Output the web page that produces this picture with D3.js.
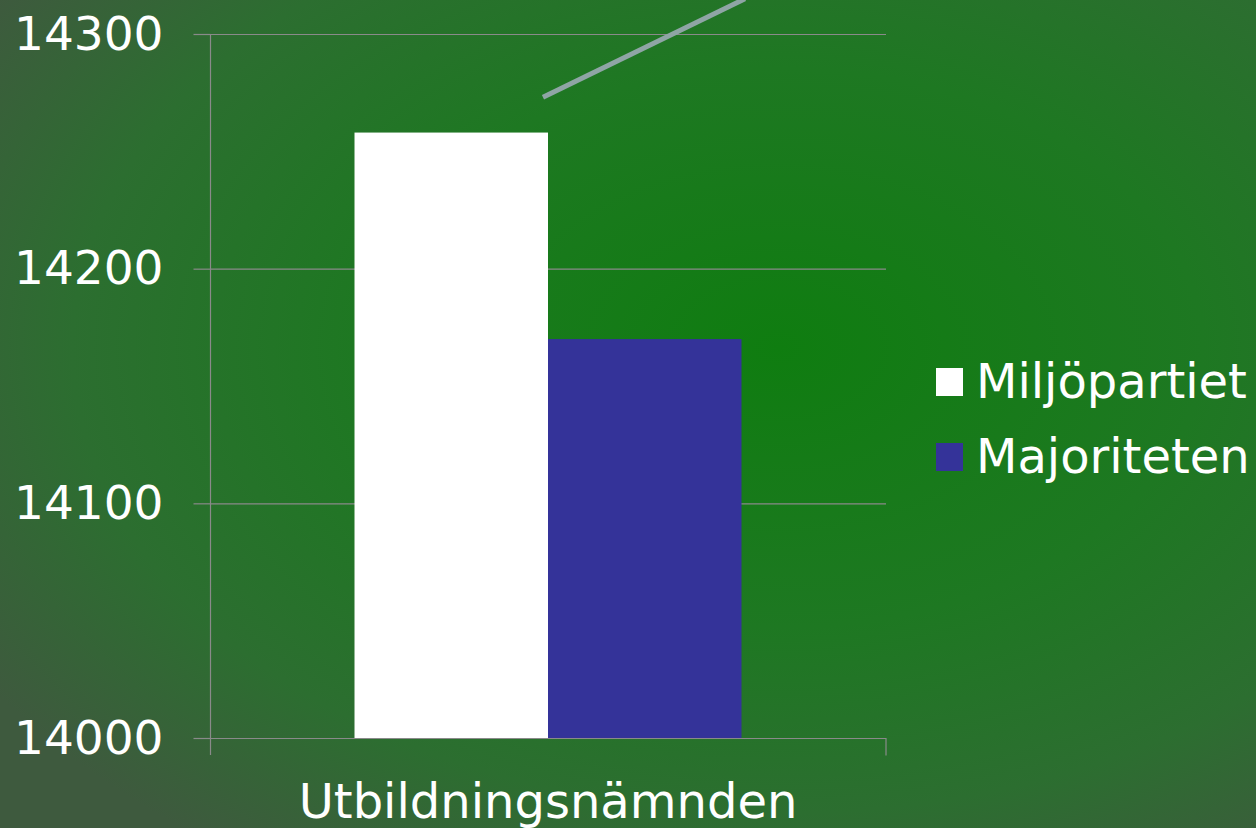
<!DOCTYPE html>
<html><head><meta charset="utf-8">
<script src="https://cdn.jsdelivr.net/npm/d3@7"></script>
<style>html,body{margin:0;padding:0;overflow:hidden;background:#2f6a30}</style>
</head><body>
<svg id="c" width="1256" height="828"></svg>
<script>
const categories = ["Utbildningsnämnden"];
const seriesNames = ["Miljöpartiet", "Majoriteten"];
const seriesValues = [[14258], [14170]];
const seriesColors = ["#ffffff", "#343399"];
const yTicks = [14000, 14100, 14200, 14300];
const arrowValues = [14273, 14315]; // decorative line, start/end in y units

const W = 1256, H = 828;
const svg = d3.select("#c");
const defs = svg.append("defs");
const rg = defs.append("radialGradient").attr("id","bg")
  .attr("cx", 0.62).attr("cy", 0.42).attr("r", 0.75).attr("gradientUnits","objectBoundingBox");
rg.append("stop").attr("offset","0%").attr("stop-color","#0f7d10");
rg.append("stop").attr("offset","45%").attr("stop-color","#1e7822");
rg.append("stop").attr("offset","75%").attr("stop-color","#2c6e30");
rg.append("stop").attr("offset","100%").attr("stop-color","#3e5a3e");
svg.append("rect").attr("width",W).attr("height",H).attr("fill","url(#bg)");

const m = {left:210, right:886, top:34, bottom:738};
const y = d3.scaleLinear().domain([14000,14300]).range([m.bottom, m.top]);
const x0 = d3.scaleBand().domain(categories).range([m.left, m.right]).paddingInner(0).paddingOuter(0.3734);
const x1 = d3.scaleBand().domain(seriesNames).range([0, x0.bandwidth()]).padding(0);

const font = "'DejaVu Sans', Verdana, sans-serif";
const grid = "#8a8a8a";

// gridlines
svg.append("g").selectAll("line").data(yTicks.slice(1)).join("line")
  .attr("x1", m.left).attr("x2", m.right)
  .attr("y1", d=>y(d)+0.5).attr("y2", d=>y(d)+0.5)
  .attr("stroke", grid).attr("stroke-width",1.2);

// bars
const g = svg.append("g");
categories.forEach((c, ci) => {
  seriesNames.forEach((s, si) => {
    g.append("rect")
      .attr("x", x0(c) + x1(s))
      .attr("width", x1.bandwidth())
      .attr("y", y(seriesValues[si][ci]))
      .attr("height", y(14000) - y(seriesValues[si][ci]))
      .attr("fill", seriesColors[si]);
  });
});

// y axis
const yAxis = d3.axisLeft(y).tickValues(yTicks).tickSize(17).tickPadding(30).tickFormat(d3.format("d"));
const ya = svg.append("g").attr("transform", `translate(${m.left+0.5},0)`).call(yAxis);
ya.select(".domain").attr("d", `M0,${m.top}V${m.bottom+17}`).attr("stroke", grid).attr("stroke-width",1.2);
ya.selectAll(".tick line").attr("stroke", grid).attr("stroke-width",1.2);
ya.selectAll(".tick text").attr("fill","#fff").style("font-family", font).style("font-size","47px");

// x axis
const xa = svg.append("g").attr("transform", `translate(0,${m.bottom+0.5})`)
  .call(d3.axisBottom(x0).tickSize(0).tickPadding(45));
xa.select(".domain").attr("d", `M${m.left},0H${m.right}V17`).attr("stroke", grid).attr("stroke-width",1.2).attr("fill","none");
xa.selectAll(".tick text").attr("fill","#fff").style("font-family", font).style("font-size","48px");

// decorative line
svg.append("line")
  .attr("x1", x0(categories[0]) + x1.bandwidth()*0.974).attr("y1", y(arrowValues[0]))
  .attr("x2", x0(categories[0]) + x1.bandwidth()*2.018).attr("y2", y(arrowValues[1]))
  .attr("stroke", "#8fa5a5").attr("stroke-width", 5);

// legend
const lg = svg.append("g").attr("transform","translate(936,368)");
seriesNames.forEach((s,i)=>{
  const row = lg.append("g").attr("transform",`translate(0,${i*75})`);
  row.append("rect").attr("width",27).attr("height",28).attr("fill",seriesColors[i]);
  row.append("text").attr("x",40).attr("y",30).text(s)
    .attr("fill","#fff").style("font-family",font).style("font-size","48px");
});
</script>
</body></html>
